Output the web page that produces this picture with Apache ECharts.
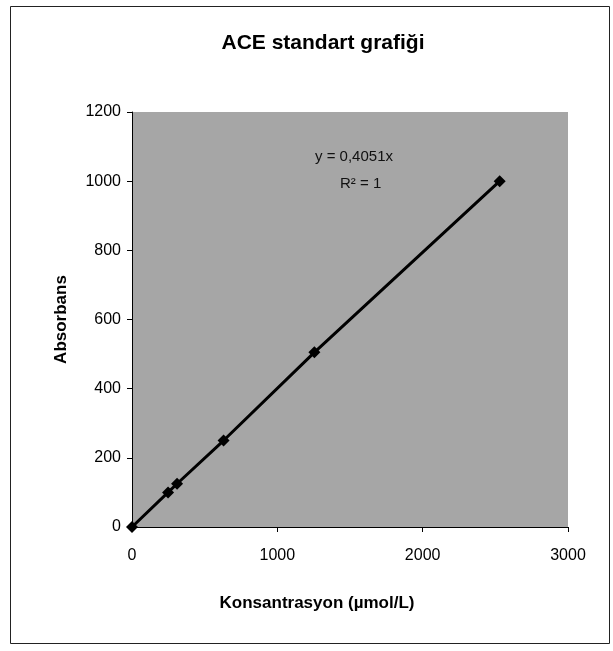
<!DOCTYPE html>
<html>
<head>
<meta charset="utf-8">
<script src="https://cdn.jsdelivr.net/npm/echarts@6/dist/echarts.min.js"></script>
<style>
  html, body { margin: 0; padding: 0; background: #fff; }
  #chart { width: 613px; height: 651px; }
</style>
</head>
<body>
<div id="chart"></div>
<script>
// standart noktalar (okunan degerler)
var konsantrasyon = [0, 248, 310, 630, 1255, 2530];
var absorbans = [0, 100, 125, 250, 505, 1000];
var xTicks = [0, 1000, 2000, 3000];
var yTicks = [0, 200, 400, 600, 800, 1000, 1200];
var denklem = 'y = 0,4051x';
var r2 = 'R² = 1';

var noktalar = konsantrasyon.map(function (x, i) { return [x, absorbans[i]]; });

var chart = echarts.init(document.getElementById('chart'));
var font = 'Liberation Sans, Arial, sans-serif';

var option = {
    animation: false,
    backgroundColor: '#fff',
    title: {
        text: 'ACE standart grafiği',
        left: 318,
        top: 28,
        textAlign: 'center',
        textStyle: { fontFamily: font, fontSize: 21, fontWeight: 'bold', color: '#000' }
    },
    grid: {
        left: 132, right: 45, top: 112, bottom: 124,
        show: true,
        backgroundColor: '#a6a6a6',
        borderWidth: 0
    },
    xAxis: {
        type: 'value',
        min: xTicks[0],
        max: xTicks[xTicks.length - 1],
        interval: 1000,
        name: 'Konsantrasyon (µmol/L)',
        nameLocation: 'middle',
        nameGap: 68,
        nameTextStyle: {
            fontFamily: font, fontSize: 17, fontWeight: 'bold', color: '#000',
            padding: [0, 66, 0, 0]
        },
        axisLine: { show: true, lineStyle: { color: '#000', width: 1 } },
        axisTick: { show: true, length: 5, lineStyle: { color: '#000' } },
        axisLabel: {
            fontFamily: font, fontSize: 16, color: '#000', margin: 21,
            formatter: function (v) { return String(v); }
        },
        splitLine: { show: false }
    },
    yAxis: {
        type: 'value',
        min: yTicks[0],
        max: yTicks[yTicks.length - 1],
        interval: 200,
        name: 'Absorbans',
        nameLocation: 'middle',
        nameGap: 62,
        nameTextStyle: { fontFamily: font, fontSize: 17, fontWeight: 'bold', color: '#000' },
        axisLine: { show: true, lineStyle: { color: '#000', width: 1 } },
        axisTick: { show: true, length: 5, lineStyle: { color: '#000' } },
        axisLabel: {
            fontFamily: font, fontSize: 16, color: '#000', margin: 11,
            formatter: function (v) { return String(v); }
        },
        splitLine: { show: false }
    },
    graphic: [
        {
            type: 'rect',
            left: 8, top: 4,
            shape: { width: 599, height: 637 },
            style: { fill: 'none', stroke: '#222', lineWidth: 1 },
            z: -1
        },
        {
            type: 'text',
            left: 315, top: 149,
            style: { text: denklem, font: '15px ' + font, fill: '#111' }
        },
        {
            type: 'text',
            left: 340, top: 176,
            style: { text: r2, font: '15px ' + font, fill: '#111' }
        }
    ],
    series: [{
        type: 'line',
        data: noktalar,
        symbol: 'diamond',
        symbolSize: 12,
        lineStyle: { color: '#000', width: 3 },
        itemStyle: { color: '#000' }
    }]
};

chart.setOption(option);
</script>
</body>
</html>
